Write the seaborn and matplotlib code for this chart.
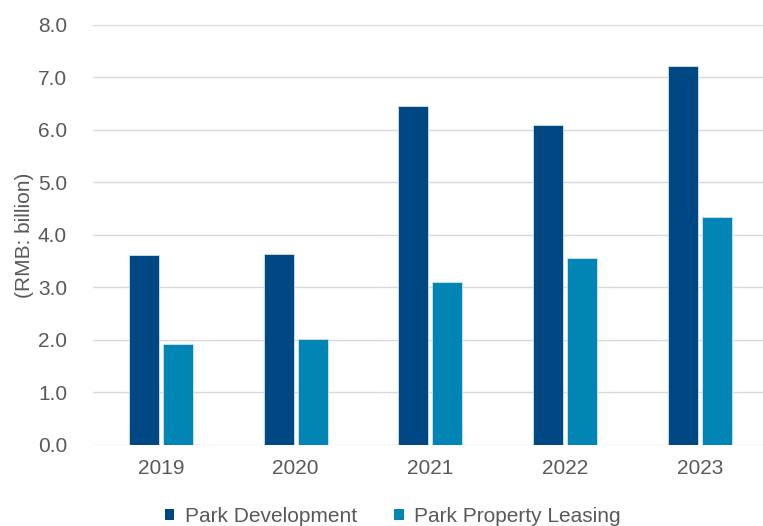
import seaborn as sns
import pandas as pd
import matplotlib.pyplot as plt
from matplotlib.patches import Patch

years = ["2019", "2020", "2021", "2022", "2023"]
parkDevelopment = [3.61, 3.64, 6.45, 6.09, 7.22]
parkLeasing = [1.92, 2.02, 3.11, 3.57, 4.34]
seriesNames = ["Park Development", "Park Property Leasing"]
colors = ["#004883", "#0085B5"]

plotData = {"year": [], "value": [], "series": []}
for y, a, b in zip(years, parkDevelopment, parkLeasing):
    plotData["year"] += [y, y]
    plotData["value"] += [a, b]
    plotData["series"] += seriesNames

df = pd.DataFrame(plotData)

sns.set_theme(style="white")
plt.rcParams["font.family"] = ["Liberation Sans", "DejaVu Sans"]

fig = plt.figure(figsize=(7.63, 5.26), dpi=100)
ax = fig.add_axes([0.1225, 0.154, 0.883, 0.7985])

sns.barplot(
    data=df,
    x="year",
    y="value",
    hue="series",
    palette=colors,
    saturation=1,
    width=0.505,
    gap=0.12,
    edgecolor="#cfe3ee",
    linewidth=0.6,
    legend=False,
    ax=ax,
)

ax.set_ylim(0, 8)
ax.set_yticks(range(0, 9))
ax.set_yticklabels([f"{v:.1f}" for v in range(0, 9)])
ax.yaxis.grid(True, color="#d9d9d9", linewidth=1)
ax.set_axisbelow(True)
for s in ax.spines.values():
    s.set_visible(False)
ax.tick_params(axis="both", length=0, labelsize=15, labelcolor="#595959")
ax.tick_params(axis="y", pad=19)
ax.tick_params(axis="x", pad=10)
ax.set_xlabel("")
ax.set_ylabel("(RMB: billion)", fontsize=15, color="#595959", labelpad=3)

handles = [Patch(facecolor=c, edgecolor="none") for c in colors]
fig.legend(
    handles,
    seriesNames,
    loc="lower center",
    bbox_to_anchor=(0.515, -0.035),
    ncol=2,
    frameon=False,
    fontsize=15,
    labelcolor="#595959",
    handlelength=0.45,
    handleheight=0.45,
    handletextpad=0.5,
    columnspacing=1.8,
)

fig.savefig("out.png", dpi=100)
